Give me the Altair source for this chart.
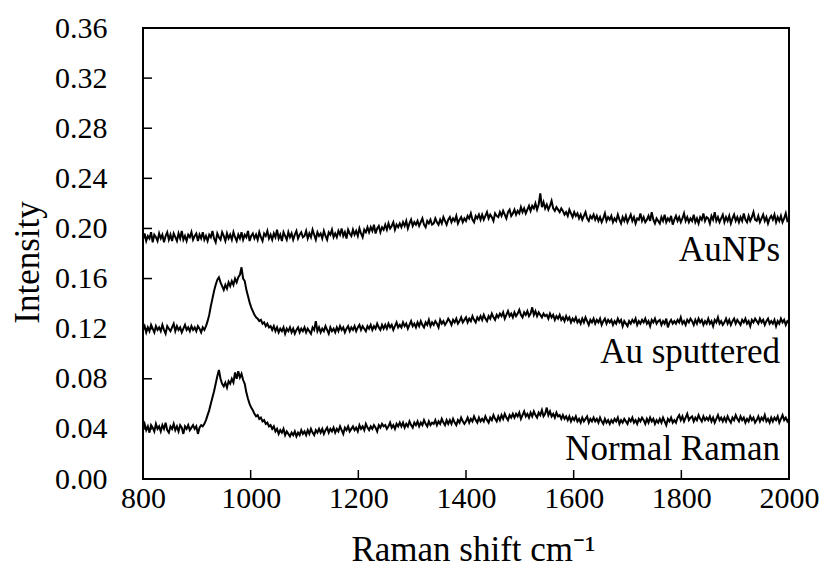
import altair as alt
import pandas as pd

# Raman shift grid (cm-1), 3 cm-1 steps
shift = list(range(800, 2001, 3))

aunps = [
    0.191, 0.196, 0.190, 0.194, 0.192, 0.197, 0.189, 0.195, 0.193, 0.190,
    0.196, 0.192, 0.195, 0.189, 0.194, 0.197, 0.191, 0.195, 0.190, 0.196,
    0.193, 0.190, 0.196, 0.192, 0.198, 0.191, 0.194, 0.190, 0.195, 0.193,
    0.197, 0.191, 0.194, 0.196, 0.190, 0.195, 0.192, 0.197, 0.191, 0.194,
    0.190, 0.195, 0.193, 0.198, 0.192, 0.189, 0.196, 0.193, 0.191, 0.197,
    0.194, 0.190, 0.196, 0.192, 0.195, 0.191, 0.197, 0.193, 0.190, 0.195,
    0.192, 0.197, 0.191, 0.195, 0.193, 0.198, 0.190, 0.194, 0.196, 0.192,
    0.195, 0.191, 0.197, 0.193, 0.190, 0.196, 0.194, 0.198, 0.192, 0.195,
    0.191, 0.196, 0.193, 0.199, 0.192, 0.195, 0.190, 0.197, 0.194, 0.191,
    0.197, 0.193, 0.196, 0.191, 0.195, 0.198, 0.192, 0.195, 0.197, 0.193,
    0.194, 0.198, 0.192, 0.196, 0.193, 0.199, 0.195, 0.191, 0.197, 0.194,
    0.196, 0.192, 0.198, 0.194, 0.191, 0.197, 0.195, 0.199, 0.193, 0.196,
    0.193, 0.198, 0.195, 0.200, 0.194, 0.197, 0.192, 0.199, 0.196, 0.194,
    0.199, 0.195, 0.198, 0.194, 0.200, 0.196, 0.193, 0.199, 0.197, 0.201,
    0.197, 0.201, 0.198, 0.203, 0.196, 0.200, 0.202, 0.197, 0.201, 0.199,
    0.203, 0.199, 0.204, 0.200, 0.202, 0.205, 0.199, 0.203, 0.201, 0.204,
    0.201, 0.205, 0.202, 0.206, 0.200, 0.204, 0.207, 0.202, 0.205, 0.203,
    0.206, 0.202, 0.205, 0.208, 0.203, 0.201, 0.206, 0.204, 0.207, 0.203,
    0.204, 0.208, 0.205, 0.203, 0.207, 0.204, 0.209, 0.206, 0.203, 0.207,
    0.209, 0.205, 0.208, 0.206, 0.210, 0.204, 0.207, 0.209, 0.205, 0.208,
    0.206, 0.210, 0.208, 0.212, 0.207, 0.205, 0.210, 0.208, 0.211, 0.207,
    0.211, 0.207, 0.210, 0.213, 0.208, 0.211, 0.209, 0.206, 0.212, 0.210,
    0.209, 0.213, 0.210, 0.214, 0.211, 0.208, 0.213, 0.215, 0.210, 0.212,
    0.215, 0.211, 0.214, 0.212, 0.217, 0.213, 0.216, 0.212, 0.215, 0.218,
    0.214, 0.218, 0.216, 0.220, 0.215, 0.219, 0.228, 0.217, 0.221, 0.216,
    0.219, 0.215, 0.218, 0.222, 0.216, 0.214, 0.217, 0.215, 0.213, 0.216,
    0.214, 0.211, 0.213, 0.210, 0.215, 0.212, 0.209, 0.213, 0.210, 0.212,
    0.208, 0.211, 0.207, 0.210, 0.213, 0.208, 0.206, 0.210, 0.208, 0.211,
    0.207, 0.210, 0.206, 0.209, 0.205, 0.208, 0.212, 0.206, 0.209, 0.207,
    0.210, 0.205, 0.208, 0.206, 0.211, 0.207, 0.204, 0.209, 0.206, 0.210,
    0.205, 0.208, 0.211, 0.206, 0.209, 0.204, 0.208, 0.207, 0.212, 0.206,
    0.209, 0.205, 0.207, 0.210, 0.206, 0.213, 0.207, 0.204, 0.208, 0.206,
    0.204, 0.209, 0.206, 0.211, 0.205, 0.208, 0.206, 0.210, 0.203, 0.207,
    0.210, 0.206, 0.209, 0.205, 0.208, 0.212, 0.206, 0.209, 0.205, 0.208,
    0.206, 0.211, 0.205, 0.208, 0.204, 0.209, 0.207, 0.212, 0.206, 0.209,
    0.208, 0.204, 0.210, 0.207, 0.213, 0.206, 0.209, 0.205, 0.208, 0.211,
    0.205, 0.209, 0.206, 0.210, 0.204, 0.208, 0.211, 0.206, 0.209, 0.205,
    0.209, 0.206, 0.212, 0.207, 0.205, 0.210, 0.206, 0.209, 0.213, 0.207,
    0.206, 0.210, 0.205, 0.208, 0.211, 0.206, 0.209, 0.204, 0.208, 0.210,
    0.207, 0.211, 0.205, 0.209, 0.206, 0.210, 0.205, 0.208, 0.212, 0.206,
    0.207,
]

au_sputtered = [
    0.119, 0.122, 0.117, 0.121, 0.118, 0.123, 0.120, 0.117, 0.122, 0.119,
    0.121, 0.118, 0.123, 0.119, 0.116, 0.122, 0.120, 0.118, 0.121, 0.124,
    0.118, 0.122, 0.119, 0.121, 0.117, 0.120, 0.123, 0.119, 0.121, 0.118,
    0.122, 0.119, 0.121, 0.118, 0.122, 0.120, 0.117, 0.121, 0.119, 0.122,
    0.126, 0.131, 0.138, 0.144, 0.150, 0.155, 0.159, 0.161, 0.157, 0.154,
    0.151, 0.155, 0.152, 0.157, 0.154, 0.158, 0.155, 0.160, 0.157, 0.161,
    0.163, 0.169, 0.160, 0.158, 0.151, 0.146, 0.141, 0.137, 0.134, 0.131,
    0.129, 0.128, 0.126, 0.127, 0.124, 0.125, 0.122, 0.124, 0.121, 0.122,
    0.119, 0.122, 0.118, 0.121, 0.117, 0.120, 0.118, 0.121, 0.116, 0.120,
    0.118, 0.121, 0.117, 0.120, 0.116, 0.119, 0.121, 0.117, 0.120, 0.118,
    0.121, 0.117, 0.120, 0.118, 0.116, 0.121, 0.119, 0.126, 0.118, 0.121,
    0.117, 0.120, 0.118, 0.122, 0.119, 0.116, 0.121, 0.118, 0.120, 0.117,
    0.121, 0.118, 0.122, 0.119, 0.121, 0.117, 0.120, 0.122, 0.118, 0.121,
    0.119, 0.122, 0.118, 0.121, 0.123, 0.119, 0.122, 0.120, 0.118, 0.122,
    0.120, 0.123, 0.119, 0.122, 0.120, 0.124, 0.121, 0.119, 0.123, 0.120,
    0.123, 0.120, 0.124, 0.121, 0.123, 0.119, 0.122, 0.125, 0.121, 0.123,
    0.121, 0.125, 0.122, 0.124, 0.120, 0.123, 0.126, 0.122, 0.124, 0.121,
    0.125, 0.122, 0.126, 0.123, 0.121, 0.125, 0.123, 0.127, 0.122, 0.125,
    0.123, 0.126, 0.124, 0.121, 0.127, 0.124, 0.126, 0.123, 0.125, 0.128,
    0.126, 0.123, 0.127, 0.125, 0.128, 0.124, 0.126, 0.129, 0.125, 0.127,
    0.129, 0.125, 0.128, 0.126, 0.130, 0.127, 0.125, 0.129, 0.127, 0.130,
    0.127, 0.131, 0.128, 0.126, 0.130, 0.128, 0.132, 0.129, 0.127, 0.131,
    0.129, 0.132, 0.130, 0.133, 0.128, 0.131, 0.134, 0.130, 0.132, 0.129,
    0.133, 0.130, 0.132, 0.135, 0.131, 0.129, 0.133, 0.131, 0.134, 0.130,
    0.132, 0.137, 0.131, 0.134, 0.130, 0.133, 0.131, 0.129, 0.132, 0.130,
    0.131, 0.128, 0.132, 0.129, 0.131, 0.127, 0.130, 0.128, 0.131, 0.127,
    0.129, 0.126, 0.130, 0.127, 0.129, 0.125, 0.128, 0.126, 0.129, 0.125,
    0.127, 0.124, 0.128, 0.125, 0.129, 0.126, 0.123, 0.127, 0.125, 0.128,
    0.124, 0.127, 0.125, 0.128, 0.123, 0.126, 0.128, 0.124, 0.127, 0.125,
    0.127, 0.123, 0.126, 0.124, 0.128, 0.125, 0.127, 0.122, 0.126, 0.124,
    0.122, 0.126, 0.124, 0.127, 0.125, 0.128, 0.123, 0.126, 0.124, 0.127,
    0.125, 0.128, 0.124, 0.126, 0.122, 0.127, 0.125, 0.128, 0.124, 0.126,
    0.127, 0.123, 0.126, 0.124, 0.128, 0.121, 0.125, 0.127, 0.124, 0.126,
    0.124, 0.127, 0.125, 0.129, 0.124, 0.126, 0.123, 0.127, 0.125, 0.128,
    0.126, 0.123, 0.127, 0.124, 0.128, 0.125, 0.127, 0.123, 0.126, 0.124,
    0.128, 0.124, 0.126, 0.122, 0.127, 0.125, 0.129, 0.124, 0.126, 0.123,
    0.125, 0.128, 0.124, 0.127, 0.123, 0.126, 0.128, 0.124, 0.127, 0.125,
    0.123, 0.127, 0.125, 0.128, 0.124, 0.126, 0.122, 0.127, 0.125, 0.128,
    0.126, 0.124, 0.128, 0.125, 0.127, 0.123, 0.126, 0.128, 0.124, 0.126,
    0.124, 0.127, 0.122, 0.126, 0.124, 0.128, 0.125, 0.127, 0.123, 0.126,
    0.125,
]

normal_raman = [
    0.040, 0.044, 0.039, 0.042, 0.037, 0.043, 0.041, 0.038, 0.044, 0.040,
    0.042, 0.038, 0.043, 0.040, 0.045, 0.039, 0.037, 0.042, 0.040, 0.044,
    0.039, 0.042, 0.038, 0.043, 0.041, 0.036, 0.042, 0.040, 0.043, 0.039,
    0.041, 0.043, 0.040, 0.042, 0.036, 0.041, 0.043, 0.042, 0.044, 0.047,
    0.051, 0.055, 0.060, 0.065, 0.070, 0.076, 0.082, 0.087, 0.080, 0.076,
    0.074, 0.077, 0.073, 0.078, 0.076, 0.080, 0.077, 0.085, 0.080, 0.086,
    0.081, 0.084, 0.079, 0.076, 0.069, 0.064, 0.060, 0.057, 0.055, 0.052,
    0.050, 0.051, 0.048, 0.049, 0.046, 0.047, 0.044, 0.045, 0.042, 0.043,
    0.040, 0.042, 0.038, 0.040, 0.036, 0.039, 0.037, 0.040, 0.035, 0.038,
    0.036, 0.034, 0.037, 0.035, 0.038, 0.034, 0.037, 0.035, 0.039, 0.036,
    0.038, 0.035, 0.039, 0.036, 0.040, 0.037, 0.035, 0.039, 0.037, 0.040,
    0.037, 0.040, 0.036, 0.039, 0.041, 0.037, 0.040, 0.038, 0.041, 0.037,
    0.040, 0.038, 0.042, 0.039, 0.036, 0.041, 0.039, 0.042, 0.038, 0.040,
    0.042, 0.039, 0.041, 0.038, 0.043, 0.040, 0.042, 0.039, 0.044, 0.041,
    0.039, 0.042, 0.040, 0.043, 0.041, 0.038, 0.043, 0.041, 0.044, 0.042,
    0.043, 0.040, 0.042, 0.045, 0.041, 0.043, 0.040, 0.044, 0.042, 0.045,
    0.042, 0.045, 0.041, 0.044, 0.042, 0.046, 0.043, 0.041, 0.045, 0.043,
    0.046, 0.042, 0.045, 0.043, 0.047, 0.044, 0.042, 0.046, 0.043, 0.045,
    0.044, 0.047, 0.043, 0.046, 0.044, 0.048, 0.045, 0.043, 0.047, 0.044,
    0.047, 0.044, 0.048, 0.045, 0.043, 0.047, 0.045, 0.049, 0.046, 0.044,
    0.046, 0.049, 0.045, 0.048, 0.046, 0.050, 0.047, 0.045, 0.049, 0.046,
    0.048, 0.046, 0.050, 0.047, 0.045, 0.049, 0.047, 0.051, 0.048, 0.046,
    0.050, 0.047, 0.051, 0.048, 0.052, 0.049, 0.047, 0.051, 0.049, 0.052,
    0.049, 0.052, 0.050, 0.053, 0.048, 0.051, 0.054, 0.050, 0.052, 0.049,
    0.053, 0.050, 0.054, 0.051, 0.049, 0.053, 0.051, 0.055, 0.050, 0.052,
    0.057, 0.051, 0.054, 0.050, 0.052, 0.049, 0.053, 0.050, 0.051, 0.048,
    0.051, 0.048, 0.050, 0.047, 0.050, 0.046, 0.049, 0.047, 0.050, 0.046,
    0.048, 0.045, 0.049, 0.046, 0.048, 0.050, 0.045, 0.048, 0.046, 0.049,
    0.046, 0.048, 0.045, 0.049, 0.046, 0.044, 0.048, 0.045, 0.047, 0.044,
    0.047, 0.045, 0.048, 0.046, 0.049, 0.044, 0.047, 0.045, 0.048, 0.046,
    0.044, 0.048, 0.046, 0.049, 0.045, 0.047, 0.044, 0.048, 0.046, 0.049,
    0.047, 0.044, 0.048, 0.045, 0.049, 0.046, 0.048, 0.044, 0.047, 0.045,
    0.048, 0.045, 0.049, 0.046, 0.043, 0.048, 0.046, 0.049, 0.045, 0.047,
    0.045, 0.049, 0.051, 0.047, 0.050, 0.046, 0.049, 0.052, 0.047, 0.049,
    0.050, 0.046, 0.049, 0.047, 0.051, 0.048, 0.046, 0.050, 0.047, 0.049,
    0.047, 0.050, 0.046, 0.049, 0.045, 0.048, 0.051, 0.047, 0.049, 0.046,
    0.049, 0.046, 0.050, 0.047, 0.045, 0.049, 0.047, 0.051, 0.048, 0.046,
    0.050, 0.047, 0.049, 0.045, 0.048, 0.046, 0.050, 0.047, 0.049, 0.045,
    0.047, 0.050, 0.046, 0.049, 0.047, 0.051, 0.046, 0.048, 0.045, 0.049,
    0.046, 0.049, 0.047, 0.050, 0.045, 0.048, 0.051, 0.047, 0.049, 0.046,
    0.048,
]

series_names = ["AuNPs", "Au sputtered", "Normal Raman"]
x_ticks = [800, 1000, 1200, 1400, 1600, 1800, 2000]
y_ticks = [0.00, 0.04, 0.08, 0.12, 0.16, 0.20, 0.24, 0.28, 0.32, 0.36]

all_series = [aunps, au_sputtered, normal_raman]
for s in all_series:
    assert len(s) == len(shift), (len(s), len(shift))

rows = []
for name, vals in zip(series_names, all_series):
    for s, v in zip(shift, vals):
        rows.append({"shift": s, "intensity": v, "series": name})
df = pd.DataFrame(rows)

labels_df = pd.DataFrame({
    "series": series_names,
    "shift": [shift[-1]] * 3,
    "intensity": [s[-1] for s in all_series],
})

FONT = "Liberation Serif"

x_scale = alt.Scale(domain=[800, 2000], nice=False, zero=False)
y_scale = alt.Scale(domain=[0, 0.36], nice=False)

x_axis = alt.Axis(
    values=x_ticks, format="d",
    title="Raman shift cm⁻¹",
    titleX=330, titleY=81, titleAlign="center", titleBaseline="alphabetic",
    labelPadding=4,
)
y_axis = alt.Axis(
    values=y_ticks, format=".2f",
    title="Intensity", titleAngle=270,
    titleX=-105, titleY=234, titleAlign="center", titleBaseline="alphabetic",
    labelPadding=36,
)

lines = alt.Chart(df).mark_line(color="black", strokeWidth=2).encode(
    x=alt.X("shift:Q", scale=x_scale, axis=x_axis),
    y=alt.Y("intensity:Q", scale=y_scale, axis=y_axis),
    detail="series:N",
)

xt = alt.Chart(pd.DataFrame({"shift": x_ticks})).mark_rule(color="black", strokeWidth=1.5).encode(
    x=alt.X("shift:Q", scale=x_scale),
    y=alt.value(451),
    y2=alt.value(442),
)

yt = alt.Chart(pd.DataFrame({"intensity": y_ticks})).mark_rule(color="black", strokeWidth=1.5).encode(
    y=alt.Y("intensity:Q", scale=y_scale),
    x=alt.value(0),
    x2=alt.value(9),
)

labels = alt.Chart(labels_df).mark_text(
    align="right", baseline="alphabetic", dx=-9, dy=41,
    font=FONT, fontSize=35, color="black",
).encode(
    x=alt.X("shift:Q", scale=x_scale),
    y=alt.Y("intensity:Q", scale=y_scale),
    text="series:N",
)

chart = alt.layer(lines, xt, yt, labels).properties(
    width=646, height=451,
    autosize=alt.AutoSizeParams(type="none"),
    padding={"left": 143, "top": 28, "right": 37, "bottom": 99},
    background="white",
).configure_view(
    stroke="black", strokeWidth=2,
).configure_axis(
    tickSize=0, domain=False, grid=False,
    labelFont=FONT, labelFontSize=30, labelColor="black",
    labelFlush=False, labelOverlap=False, labelBound=False,
    titleFont=FONT, titleFontSize=35, titleFontWeight="normal", titleColor="black",
)

chart.save("out.html", embed_options={"renderer": "svg", "actions": False})
